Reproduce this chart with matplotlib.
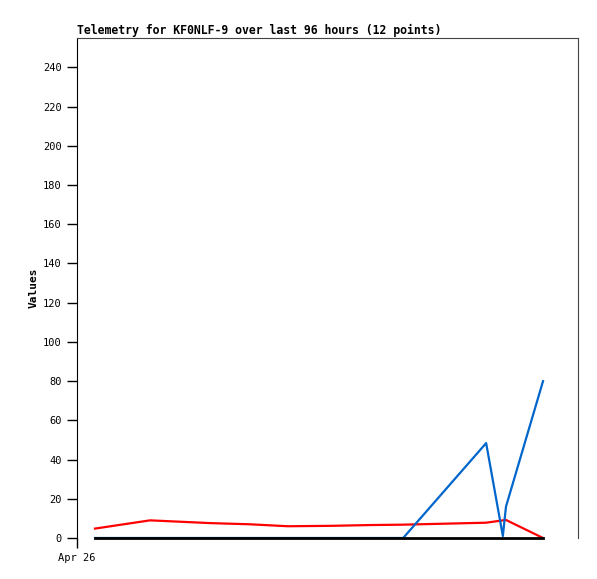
import matplotlib
matplotlib.use("Agg")
import matplotlib.pyplot as plt

# Datos de telemetria (horas desde Apr 26 00:00)
horas = [3.45, 14.0, 25.5, 33.1, 40.4, 48.5, 56.1, 62.5, 78.4, 81.6, 82.2, 89.3]
serie_roja = [4.8, 9.0, 7.6, 7.0, 6.0, 6.2, 6.6, 6.8, 7.8, 9.0, 9.2, 0.0]
serie_azul = [0, 0, 0, 0, 0, 0, 0, 0, 48.4, 1.0, 16.0, 80.0]
serie_negra = [0] * 12
ticks_y = list(range(0, 241, 20))

fuente = "DejaVu Sans Mono"

fig = plt.figure(figsize=(5.97, 5.79), dpi=100)
ax = fig.add_axes([77 / 597, 41 / 579, 501 / 597, 500 / 579])

ax.plot(horas, serie_roja, color="#ff0000", lw=1.6, zorder=3)
ax.plot(horas, serie_azul, color="#0066cc", lw=1.6, zorder=4)
ax.plot(horas, serie_negra, color="black", lw=2.0, zorder=5, clip_on=False)

ax.set_xlim(0, 96)
ax.set_ylim(0, 255)
ax.set_yticks(ticks_y)
ax.set_yticklabels([str(v) for v in ticks_y], fontfamily=fuente, fontsize=7.5)
ax.set_xticks([0])
ax.set_xticklabels(["Apr 26"], fontfamily=fuente, fontsize=7.5)
ax.tick_params(axis="both", direction="out", length=7, width=1, pad=4)

for lado in ["top", "right"]:
    ax.spines[lado].set_color("#444444")
ax.spines["left"].set_color("black")
ax.spines["bottom"].set_visible(False)

ax.set_ylabel("Values", fontfamily=fuente, fontweight="bold", fontsize=8, labelpad=3)
ax.set_title("Telemetry for KF0NLF-9 over last 96 hours (12 points)",
             fontfamily=fuente, fontweight="bold", fontsize=8.3, loc="left", pad=3)

fig.savefig("out.png", dpi=100)
